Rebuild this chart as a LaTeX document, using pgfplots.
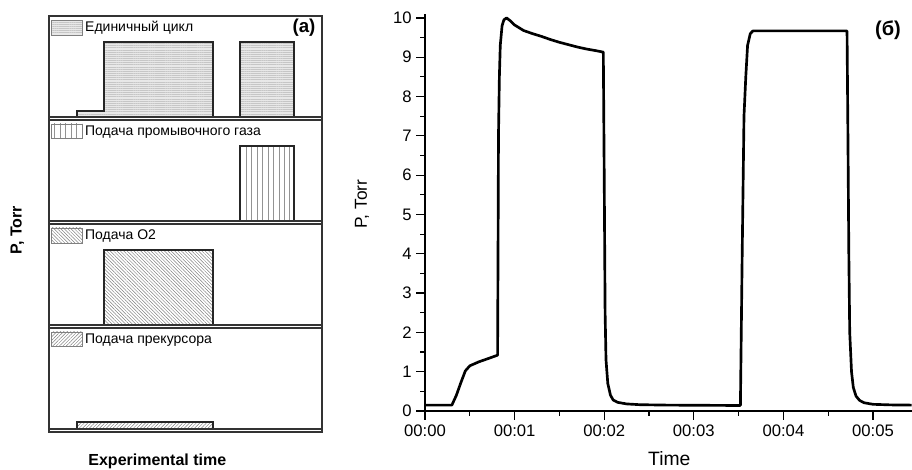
\documentclass[border=0pt]{standalone}
\usepackage{fontspec}
\setmainfont{Liberation Sans}
\usepackage{pgfplots}
\pgfplotsset{compat=1.18}
\usetikzlibrary{patterns.meta}

\pgfplotsset{
  leftpanel/.style={
    scale only axis, width=204.75pt, height=78pt,
    xmin=49, xmax=322, ymin=0, ymax=104,
    ticks=none, anchor=north west,
    axis line style={line width=0.9pt, black!80},
    legend style={at={(0.007,0.975)}, anchor=north west, draw=none, fill=none,
      inner sep=0pt, font=\fontsize{10.5}{12}\selectfont, legend cell align=left},
    legend image code/.code={\draw[##1,draw=gray,line width=0.5pt] (0pt,-5.6pt) rectangle (23pt,5.6pt);},
  },
  bar/.style={draw=black!85, line width=0.8pt},
}

\begin{document}
\begin{tikzpicture}
\useasboundingbox (0,0) rectangle (684pt,352.5pt);

% ---------- panel 1 : single cycle
\begin{axis}[leftpanel, at={(36.75pt,340.5pt)}]
\addplot[bar, fill=gray!18, postaction={pattern={Lines[angle=0,distance=1.6pt,line width=0.3pt]}, pattern color=gray!45}]
  coordinates {(77,3) (77,9) (104,9) (104,78) (213,78) (213,3)} -- cycle;
\addlegendentry{Единичный цикл}
\addplot[bar, fill=gray!18, postaction={pattern={Lines[angle=0,distance=1.6pt,line width=0.3pt]}, pattern color=gray!45}, forget plot]
  coordinates {(240,3) (240,78) (294,78) (294,3)} -- cycle;
\addplot[black!80, line width=0.9pt, forget plot] coordinates {(49,3) (322,3)};
\end{axis}

% ---------- panel 2 : purge gas
\begin{axis}[leftpanel, at={(36.75pt,262.5pt)}]
\addplot[bar, pattern={Lines[angle=90,distance=4.1pt,line width=0.45pt]}, pattern color=gray!85]
  coordinates {(240,3) (240,78) (294,78) (294,3)} -- cycle;
\addlegendentry{Подача промывочного газа}
\addplot[black!80, line width=0.9pt, forget plot] coordinates {(49,3) (322,3)};
\end{axis}

% ---------- panel 3 : O2
\begin{axis}[leftpanel, at={(36.75pt,184.5pt)}]
\addplot[bar, pattern={Lines[angle=-45,distance=1.8pt,line width=0.35pt]}, pattern color=gray]
  coordinates {(104,3) (104,78) (213,78) (213,3)} -- cycle;
\addlegendentry{Подача O2}
\addplot[black!80, line width=0.9pt, forget plot] coordinates {(49,3) (322,3)};
\end{axis}

% ---------- panel 4 : precursor
\begin{axis}[leftpanel, at={(36.75pt,106.5pt)}]
\addplot[bar, pattern={Lines[angle=45,distance=1.8pt,line width=0.35pt]}, pattern color=gray]
  coordinates {(77,3) (77,10) (213,10) (213,3)} -- cycle;
\addlegendentry{Подача прекурсора}
\addplot[black!80, line width=0.9pt, forget plot] coordinates {(49,3) (322,3)};
\end{axis}

\node[font=\bfseries\fontsize{14}{16}\selectfont] at (228pt,332pt) {(a)};
\node[font=\bfseries\fontsize{12}{14}\selectfont, rotate=90] at (13pt,180pt) {P, Torr};
\node[font=\bfseries\fontsize{12}{14}\selectfont, anchor=base] at (118pt,3pt) {Experimental time};

% ---------- right panel
\begin{axis}[
  scale only axis, width=364.9pt, height=297.75pt,
  at={(318.75pt,44.25pt)}, anchor=south west,
  xmin=0, xmax=5.43, ymin=0, ymax=10.1,
  axis x line*=bottom, axis y line*=left,
  axis line style={-, line width=0.9pt},
  xtick={0,1,2,3,4,5},
  xticklabels={00:00,00:01,00:02,00:03,00:04,00:05},
  ytick={0,1,...,10},
  minor x tick num=1, minor y tick num=1,
  tick align=outside,
  major tick length=6.5pt, minor tick length=3.5pt,
  every tick/.style={line width=0.9pt, black},
  tick label style={font=\fontsize{12.5}{14}\selectfont},
  /pgf/number format/assume math mode=true,
  clip=false,
]
\addplot[black, line width=2pt, line join=round] coordinates {
(0,0.15) (0.30,0.15) (0.35,0.40) (0.40,0.72) (0.45,1.02) (0.50,1.15) (0.60,1.25)
(0.70,1.33) (0.81,1.42) (0.815,4) (0.82,7) (0.83,8.5) (0.84,9.3) (0.86,9.8)
(0.88,9.95) (0.91,10.0) (0.95,9.93) (1.0,9.82) (1.1,9.68) (1.2,9.6) (1.3,9.53)
(1.4,9.45) (1.5,9.38) (1.6,9.32) (1.7,9.26) (1.8,9.21) (1.9,9.17) (1.99,9.13)
(2.0,6) (2.01,2.5) (2.02,1.3) (2.04,0.7) (2.07,0.4) (2.1,0.28) (2.15,0.22)
(2.25,0.18) (2.4,0.16) (2.7,0.15) (3.52,0.14) (3.54,4) (3.56,7.5) (3.58,8.5)
(3.60,9.3) (3.63,9.6) (3.66,9.67) (4.71,9.67) (4.72,7) (4.73,4) (4.74,2)
(4.76,1.0) (4.78,0.6) (4.81,0.38) (4.85,0.27) (4.9,0.21) (5.0,0.17) (5.2,0.155)
(5.43,0.15)
};
\end{axis}

\node[font=\fontsize{13}{15}\selectfont, rotate=90] at (271.5pt,199.5pt) {P, Torr};
\node[font=\fontsize{14.5}{16}\selectfont, anchor=base] at (502pt,3pt) {Time};
\node[font=\bfseries\fontsize{15}{17}\selectfont] at (666pt,330pt) {(б)};
\end{tikzpicture}
\end{document}
